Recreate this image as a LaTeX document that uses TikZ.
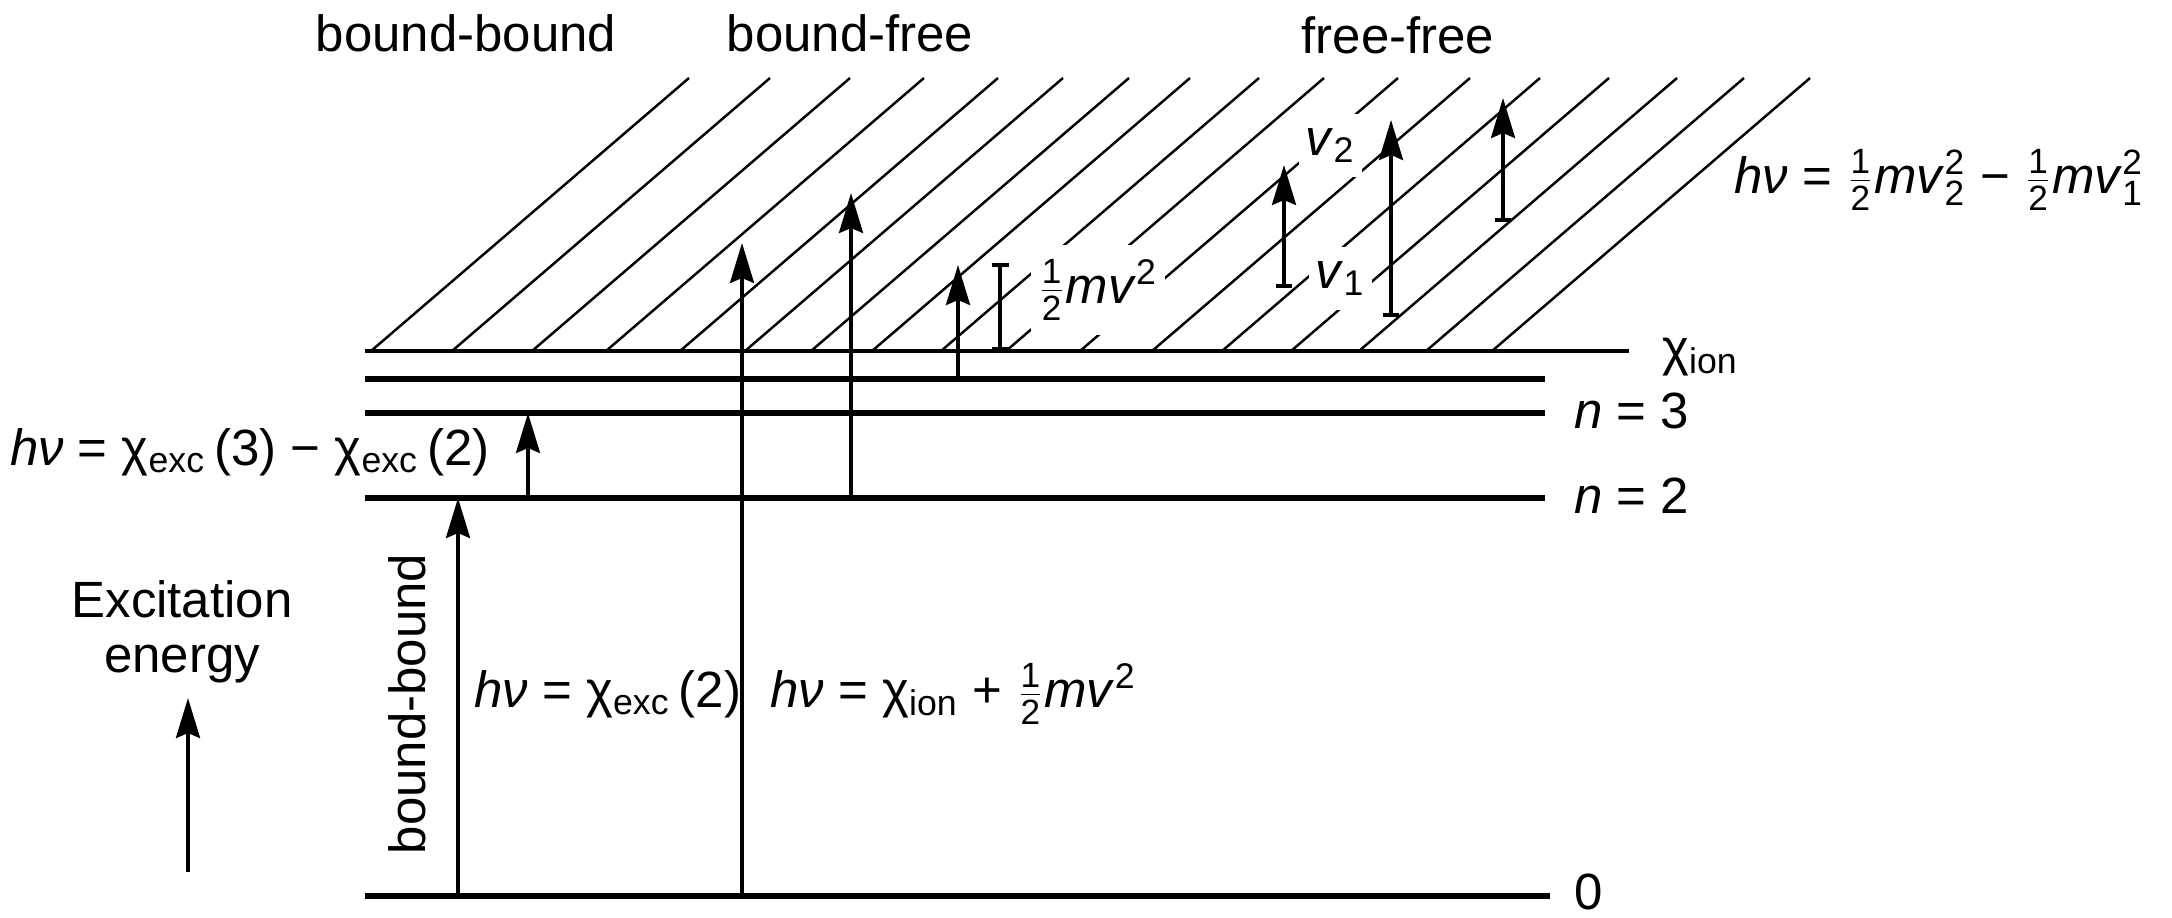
\documentclass[tikz,border=0pt]{standalone}
\usepackage{fontspec}
\setmainfont{Liberation Sans}
\setsansfont{Liberation Sans}
\usetikzlibrary{arrows.meta}

\newcommand{\sm}{\fontsize{10}{10}\selectfont}
\newcommand{\half}{\ensuremath{\frac{\hbox{\sm 1}}{\hbox{\sm 2}}}}
\newcommand{\hnu}{\textit{hν}}
\newcommand{\chiexc}{χ\textsubscript{exc}\,}
\newcommand{\chiion}{χ\textsubscript{ion}}

\tikzset{
  lvline/.style={line width=1.6pt},
  ionline/.style={line width=1.2pt},
  hatchline/.style={line width=0.7pt},
  trans/.style={line width=1pt, -{Stealth[length=4mm,width=2.4mm,inset=0.5mm]}},
  velo/.style={line width=1pt, {Bar[width=1.6mm]}-{Stealth[length=4mm,width=2.4mm,inset=0.5mm]}},
  kinbar/.style={line width=1pt, {Bar[width=1.7mm]}-{Bar[width=1.7mm]}},
  cutout/.style={fill=white, inner xsep=2pt, inner ysep=4pt},
}

\begin{document}
\begin{tikzpicture}[font=\fontsize{14.5}{15.6}\selectfont]
\useasboundingbox (0,0) rectangle (21.72,9.17);

% continuum above the ionisation limit
\foreach \xb in {3.71,4.52,5.32,6.06,6.80,7.45,8.11,8.72,9.41,10.06,10.80,11.52,12.22,12.91,13.59,14.26,14.92}
  \draw[hatchline] (\xb,5.66) -- ++(3.18,2.73);

% labels sitting in the hatching
\node[cutout, anchor=base west] (kin) at (10.30,6.14) {\half\textit{mv}\textsuperscript{2}};
\node[cutout, anchor=base west] (v2) at (12.98,7.62) {\textit{v}\textsubscript{2}};
\node[cutout, anchor=base west] (v1) at (13.08,6.29) {\textit{v}\textsubscript{1}};

% energy levels
\coordinate (lv0w) at (3.65,0.21);  \coordinate (lv0e) at (15.50,0.21);
\coordinate (lv2w) at (3.65,4.19);  \coordinate (lv2e) at (15.45,4.19);
\coordinate (lv3w) at (3.65,5.04);  \coordinate (lv3e) at (15.45,5.04);
\coordinate (lv4w) at (3.65,5.38);  \coordinate (lv4e) at (15.45,5.38);
\coordinate (ionw) at (3.65,5.66);  \coordinate (ione) at (16.29,5.66);
\draw[lvline] (lv0w) -- (lv0e);
\draw[lvline] (lv2w) -- (lv2e);
\draw[lvline] (lv3w) -- (lv3e);
\draw[lvline] (lv4w) -- (lv4e);
\draw[ionline] (ionw) -- (ione);

\node[anchor=west, inner sep=1pt] (lab0) at (15.70,0.25) {0};
\node[anchor=base west] (lab2) at (15.62,4.04) {\textit{n} = 2};
\node[anchor=base west] (lab3) at (15.62,4.89) {\textit{n} = 3};
\node[anchor=west] (labion) at (16.50,5.60) {\chiion};

% headings
\node (tbb) at (4.66,8.84) {bound-bound};
\node (tbf) at (8.50,8.84) {bound-free};
\node (tff) at (13.98,8.82) {free-free};

% bound-bound
\coordinate (bbA) at (4.58,0.21);  \coordinate (bbB) at (4.58,4.19);
\coordinate (bcA) at (5.28,4.19);  \coordinate (bcB) at (5.28,5.04);
\draw[trans] (bbA) -- (bbB);
\draw[trans] (bcA) -- (bcB);
\node[rotate=90] (bbside) at (4.07,2.13) {bound-bound};
\node[anchor=base west] (eqbb) at (4.62,2.10) {\hnu{} = \chiexc(2)};
\node[anchor=base east] (eqbc) at (5.02,4.52) {\hnu{} = \chiexc(3) − \chiexc(2)};

% bound-free
\coordinate (bfA) at (7.42,0.21);  \coordinate (bfB) at (7.42,6.74);
\coordinate (bgA) at (8.51,4.19);  \coordinate (bgB) at (8.51,7.24);
\coordinate (bhA) at (9.58,5.38);  \coordinate (bhB) at (9.58,6.52);
\coordinate (kA) at (10.00,5.66);  \coordinate (kB) at (10.00,6.54);
\draw[trans] (bfA) -- (bfB);
\draw[trans] (bgA) -- (bgB);
\draw[trans] (bhA) -- (bhB);
\draw[kinbar] (kA) -- (kB);
\node[anchor=base west] (eqbf) at (7.58,2.10) {\hnu{} = \chiion{} + \half\textit{mv}\textsuperscript{2}};

% free-free
\coordinate (ffA) at (12.84,6.29);  \coordinate (ffB) at (12.84,7.52);
\coordinate (fgA) at (13.91,6.00);  \coordinate (fgB) at (13.91,7.97);
\coordinate (fhA) at (15.03,6.95);  \coordinate (fhB) at (15.03,8.19);
\draw[velo] (ffA) -- (ffB);
\draw[velo] (fgA) -- (fgB);
\draw[velo] (fhA) -- (fhB);
\node[anchor=base west] (eqff) at (17.22,7.24)
  {\hnu{} = \half\textit{mv}$^{\hbox{\sm 2}}_{\hbox{\sm 2}}$ − \half\textit{mv}$^{\hbox{\sm 2}}_{\hbox{\sm 1}}$};

% energy axis
\node[align=center] (axis) at (1.82,2.85) {Excitation\\energy};
\coordinate (axA) at (1.88,0.45);  \coordinate (axB) at (1.88,2.19);
\draw[trans] (axA) -- (axB);
\end{tikzpicture}
\end{document}
